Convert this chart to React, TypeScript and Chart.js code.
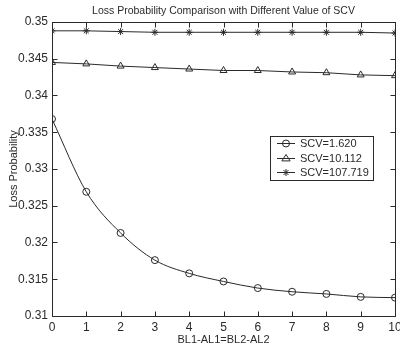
import React, { useEffect, useRef } from "react";
import { Chart, registerables } from "chart.js";

Chart.register(...registerables);

const titleText = "Loss Probability Comparison with Different Value of SCV";
const xTitle = "BL1-AL1=BL2-AL2";
const yTitle = "Loss Probability";

const xValues = [0, 1, 2, 3, 4, 5, 6, 7, 8, 9, 10];
const scv1620 = [0.3368, 0.3269, 0.3213, 0.3176, 0.3158, 0.3147, 0.3138, 0.3133, 0.313, 0.3126, 0.3125];
const scv10112 = [0.3445, 0.3443, 0.344, 0.3438, 0.3436, 0.3434, 0.3434, 0.3432, 0.3431, 0.3428, 0.3427];
const scv107719 = [0.3488, 0.3488, 0.3487, 0.3486, 0.3486, 0.3486, 0.3486, 0.3486, 0.3486, 0.3486, 0.3485];
const seriesLabels = ["SCV=1.620", "SCV=10.112", "SCV=107.719"];
const yTickValues = [0.31, 0.315, 0.32, 0.325, 0.33, 0.335, 0.34, 0.345, 0.35];
const xTickValues = [0, 1, 2, 3, 4, 5, 6, 7, 8, 9, 10];

const INK = "#2a2a2a";
const FONT = "'Liberation Sans', Arial, sans-serif";

function drawMarker(ctx: CanvasRenderingContext2D, style: string, r: number, x: number, y: number) {
  ctx.beginPath();
  if (style === "circle") {
    ctx.arc(x, y, r, 0, Math.PI * 2);
  } else if (style === "triangle") {
    ctx.moveTo(x, y - r);
    ctx.lineTo(x + r * 0.866 * 1.2, y + r * 0.6);
    ctx.lineTo(x - r * 0.866 * 1.2, y + r * 0.6);
    ctx.closePath();
  } else {
    const d = r * 0.707;
    ctx.moveTo(x - r, y); ctx.lineTo(x + r, y);
    ctx.moveTo(x, y - r); ctx.lineTo(x, y + r);
    ctx.moveTo(x - d, y - d); ctx.lineTo(x + d, y + d);
    ctx.moveTo(x - d, y + d); ctx.lineTo(x + d, y - d);
  }
  ctx.stroke();
}

const framePlugin = {
  id: "frame",
  beforeDraw(chart: any) {
    const ctx = chart.ctx;
    ctx.save();
    ctx.fillStyle = "#ffffff";
    ctx.fillRect(0, 0, chart.width, chart.height);
    ctx.restore();
  },
  afterDraw(chart: any) {
    const ctx = chart.ctx;
    const a = chart.chartArea;
    const xs = chart.scales.x;
    const ys = chart.scales.y;
    ctx.save();
    ctx.strokeStyle = INK;
    ctx.lineWidth = 1;
    const L = Math.round(a.left) + 0.5;
    const R = Math.round(a.right) + 0.5;
    const T = Math.round(a.top) + 0.5;
    const B = Math.round(a.bottom) + 0.5;
    ctx.strokeRect(L, T, R - L, B - T);
    const tl = 5;
    ctx.beginPath();
    xTickValues.forEach((v) => {
      const px = Math.round(xs.getPixelForValue(v)) + 0.5;
      ctx.moveTo(px, B);
      ctx.lineTo(px, B - tl);
      ctx.moveTo(px, T);
      ctx.lineTo(px, T + tl);
    });
    yTickValues.forEach((v) => {
      const py = Math.round(ys.getPixelForValue(v)) + 0.5;
      ctx.moveTo(L, py);
      ctx.lineTo(L + tl, py);
      ctx.moveTo(R, py);
      ctx.lineTo(R - tl, py);
    });
    ctx.stroke();

    // title
    ctx.fillStyle = INK;
    ctx.font = `10.5px ${FONT}`;
    ctx.textAlign = "center";
    ctx.textBaseline = "middle";
    ctx.fillText(titleText, (a.left + a.right) / 2, 11);

    // legend
    const bx = 270.5, by = 136.5, bw = 103, bh = 44;
    ctx.fillStyle = "#ffffff";
    ctx.fillRect(bx, by, bw, bh);
    ctx.strokeRect(bx, by, bw, bh);
    const rows = [143, 158, 172];
    chart.data.datasets.forEach((ds: any, i: number) => {
      const y = rows[i] + 0.5;
      ctx.strokeStyle = INK;
      ctx.lineWidth = 1;
      ctx.beginPath();
      ctx.moveTo(277, y);
      ctx.lineTo(295, y);
      ctx.stroke();
      drawMarker(ctx, ds.pointStyle, ds.pointRadius, 286, y);
      ctx.fillStyle = INK;
      ctx.font = `11px ${FONT}`;
      ctx.textAlign = "left";
      ctx.textBaseline = "middle";
      ctx.fillText(ds.label, 300, y);
    });
    ctx.restore();
  },
};

export default function App() {
  const ref = useRef<HTMLCanvasElement | null>(null);
  useEffect(() => {
    document.body.style.margin = "0";
    if (!ref.current) return;
    const mk = (label: string, data: number[], style: string, radius: number, cubic: boolean) => ({
      label,
      data: xValues.map((x, i) => ({ x, y: data[i] })),
      borderColor: INK,
      backgroundColor: "rgba(0,0,0,0)",
      pointBorderColor: INK,
      pointBackgroundColor: "rgba(0,0,0,0)",
      pointStyle: style,
      pointRadius: radius,
      pointBorderWidth: 1,
      borderWidth: 1,
      tension: cubic ? 0.4 : 0,
      cubicInterpolationMode: cubic ? "monotone" : "default",
    });
    const chart = new Chart(ref.current, {
      type: "line",
      data: {
        datasets: [
          mk(seriesLabels[0], scv1620, "circle", 3.5, true),
          mk(seriesLabels[1], scv10112, "triangle", 4, false),
          mk(seriesLabels[2], scv107719, "star", 3.5, false),
        ] as any,
      },
      options: {
        animation: false,
        responsive: true,
        maintainAspectRatio: false,
        layout: { padding: { top: 22, right: 5, left: 0, bottom: 0 } },
        plugins: { legend: { display: false }, title: { display: false }, tooltip: { enabled: false } },
        scales: {
          x: {
            type: "linear",
            min: 0,
            max: 10,
            grid: { display: false, drawTicks: false },
            border: { display: false },
            afterBuildTicks: (s: any) => { s.ticks = xTickValues.map((v) => ({ value: v })); },
            afterFit: (s: any) => { s.height = 33; s.paddingLeft = 0; s.paddingRight = 0; },
            ticks: { color: INK, font: { family: FONT, size: 12 }, padding: 4, maxRotation: 0 },
            title: { display: true, text: xTitle, color: INK, font: { family: FONT, size: 11 }, padding: { top: 0, bottom: 2 } },
          },
          y: {
            type: "linear",
            min: 0.31,
            max: 0.35,
            grid: { display: false, drawTicks: false },
            border: { display: false },
            afterBuildTicks: (s: any) => { s.ticks = yTickValues.map((v) => ({ value: v })); },
            afterFit: (s: any) => { s.width = 52; s.paddingTop = 0; s.paddingBottom = 0; },
            ticks: {
              color: INK,
              font: { family: FONT, size: 12 },
              padding: 4,
              callback: (v: any) => String(Number(Number(v).toFixed(3))),
            },
            title: { display: true, text: yTitle, color: INK, font: { family: FONT, size: 11 }, padding: { top: 7, bottom: 0 } },
          },
        },
      },
      plugins: [framePlugin],
    });
    return () => chart.destroy();
  }, []);
  return (
    <div style={{ width: 400, height: 349, position: "relative" }}>
      <canvas ref={ref} />
    </div>
  );
}
